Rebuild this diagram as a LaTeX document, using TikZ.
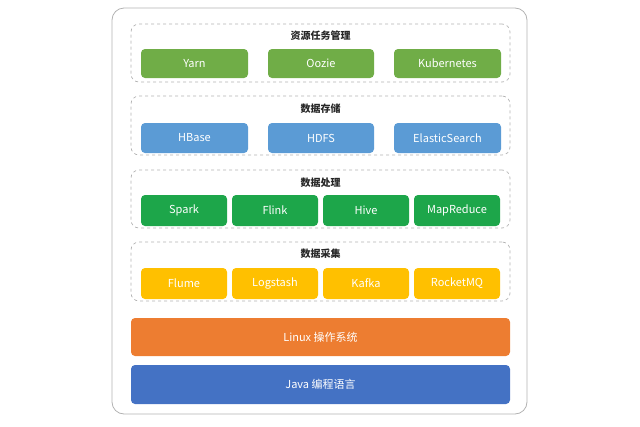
\documentclass[tikz,border=0pt]{standalone}
\usepackage{fontspec}
\setmainfont{Noto Sans CJK SC}
\begin{document}
\begin{tikzpicture}[x=1pt,y=-1pt,
  grp/.style={draw=gray!60,dashed,rounded corners=8pt,line width=0.7pt},
  bx/.style={rounded corners=4pt,text=white,font=\fontsize{11}{12}\selectfont,inner sep=0pt},
  ttl/.style={font=\fontsize{10}{12}\selectfont\bfseries,text=black!85}]
\useasboundingbox (0,0) rectangle (640,426);
\definecolor{gA}{HTML}{70AD47}
\definecolor{bB}{HTML}{5B9BD5}
\definecolor{gC}{HTML}{1DA64A}
\definecolor{yD}{HTML}{FFC000}
\definecolor{oE}{HTML}{ED7D31}
\definecolor{bF}{HTML}{4472C4}
\node[draw=gray!60,rounded corners=12pt,line width=0.8pt,minimum width=415pt,minimum height=406pt] (outer) at (319.5,211) {};
% group 1
\node[grp,minimum width=379pt,minimum height=58pt] (g1) at (320.5,53) {};
\node[ttl] (t1) at (320.5,36) {资源任务管理};
\node[bx,fill=gA,minimum width=107pt,minimum height=29pt] (yarn) at (194.5,63.5) {Yarn};
\node[bx,fill=gA,minimum width=106pt,minimum height=29pt] (oozie) at (321,63.5) {Oozie};
\node[bx,fill=gA,minimum width=107pt,minimum height=29pt] (k8s) at (447.5,63.5) {Kubernetes};
% group 2
\node[grp,minimum width=379pt,minimum height=59pt] (g2) at (320.5,125.5) {};
\node[ttl] (t2) at (320.5,109) {数据存储};
\node[bx,fill=bB,minimum width=107pt,minimum height=30pt] (hbase) at (194.5,138) {HBase};
\node[bx,fill=bB,minimum width=106pt,minimum height=30pt] (hdfs) at (321,138) {HDFS};
\node[bx,fill=bB,minimum width=107pt,minimum height=30pt] (es) at (447.5,138) {ElasticSearch};
% group 3
\node[grp,minimum width=379pt,minimum height=58pt] (g3) at (320.5,199) {};
\node[ttl] (t3) at (320.5,183) {数据处理};
\node[bx,fill=gC,minimum width=86pt,minimum height=31pt] (spark) at (184,210.5) {Spark};
\node[bx,fill=gC,minimum width=86pt,minimum height=31pt] (flink) at (275,210.5) {Flink};
\node[bx,fill=gC,minimum width=86pt,minimum height=31pt] (hive) at (366,210.5) {Hive};
\node[bx,fill=gC,minimum width=86pt,minimum height=31pt] (mr) at (457,210.5) {MapReduce};
% group 4
\node[grp,minimum width=379pt,minimum height=59pt] (g4) at (320.5,271.5) {};
\node[ttl] (t4) at (320.5,254) {数据采集};
\node[bx,fill=yD,minimum width=86pt,minimum height=31pt] (flume) at (184,283.5) {Flume};
\node[bx,fill=yD,minimum width=86pt,minimum height=31pt] (logstash) at (275,283.5) {Logstash};
\node[bx,fill=yD,minimum width=86pt,minimum height=31pt] (kafka) at (366,283.5) {Kafka};
\node[bx,fill=yD,minimum width=86pt,minimum height=31pt] (rmq) at (457,283.5) {RocketMQ};
% bars
\node[bx,fill=oE,minimum width=379pt,minimum height=38pt] (linux) at (320.5,337) {Linux 操作系统};
\node[bx,fill=bF,minimum width=379pt,minimum height=39pt] (java) at (320.5,384.5) {Java 编程语言};
\end{tikzpicture}
\end{document}
